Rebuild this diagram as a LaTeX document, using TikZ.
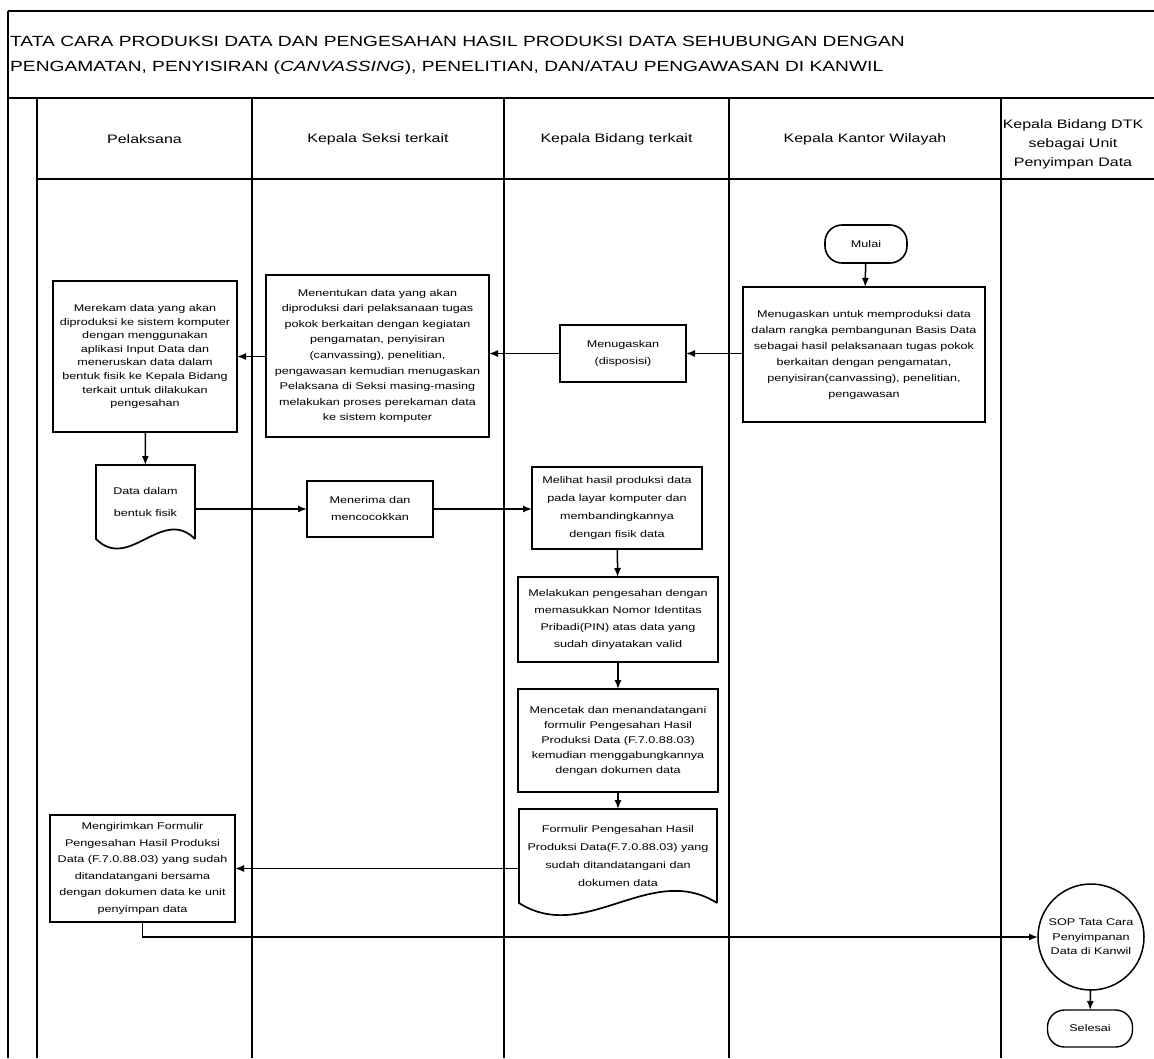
\documentclass[tikz,border=0pt]{standalone}
\usepackage{fontspec}
\newfontfamily\flowfont[FakeStretch=1.3]{Liberation Sans}
\usepackage{tikz}
\usetikzlibrary{calc,shapes.geometric,arrows.meta}

\tikzset{
	frameline/.style={line width=2.6pt},
	laneline/.style={line width=1.4pt},
	flow/.style={-{Latex[length=9pt,width=7pt]},line width=1.5pt},
	task/.style={draw,line width=1.9pt,align=center,inner sep=1pt,outer sep=0pt,font={\flowfont\fontsize{9.7}{#1}\selectfont}},
	task/.default=15,
	docnode/.style={align=center,inner sep=1pt,outer sep=0pt,font={\flowfont\fontsize{9.7}{#1}\selectfont}},
	terminal/.style={draw,line width=1.6pt,rounded corners=17pt,outer sep=0pt,font={\flowfont\fontsize{9.7}{14}\selectfont}},
	lanehead/.style={align=center,font={\flowfont\fontsize{12.3}{19}\selectfont}}
}

\begin{document}
\begin{tikzpicture}[x=1pt,y=-1pt]
		\useasboundingbox (0,0) rectangle (1154,1058);
		\def \top {11}
		\def \head {98}
		\def \body {179}
		\def \bottom {1058}
		
		%frame and lanes
		\draw[frameline] (8,\top) -- (1154,\top);
		\draw[frameline] (8,\head) -- (1154,\head);
		\draw[frameline] (37,\body) -- (1154,\body);
		\draw[laneline] (8,\top) -- (8,\bottom);
		\foreach \x in {37,252,504,729,1001}
			\draw[laneline] (\x,\head) -- (\x,\bottom);
		
		%title
		\node[anchor=west,align=left,inner sep=0pt,font={\flowfont\fontsize{14.75}{25}\selectfont}] (title) at (10,55.5)
			{TATA CARA PRODUKSI DATA DAN PENGESAHAN HASIL PRODUKSI DATA SEHUBUNGAN DENGAN\\
			PENGAMATAN, PENYISIRAN (\textit{CANVASSING}), PENELITIAN, DAN/ATAU PENGAWASAN DI KANWIL};
		
		%lane heads
		\node[lanehead] (hpel) at (144.5,139) {Pelaksana};
		\node[lanehead] (hseksi) at (378,139) {Kepala Seksi terkait};
		\node[lanehead] (hbidang) at (616.5,139) {Kepala Bidang terkait};
		\node[lanehead] (hkanwil) at (865,139) {Kepala Kantor Wilayah};
		\node[lanehead] (hdtk) at (1073,144) {Kepala Bidang DTK\\sebagai Unit\\Penyimpan Data};
		
		%kanwil
		\node[terminal,minimum width=82pt,minimum height=38pt] (mulai) at (866,244) {Mulai};
		\node[task=16,minimum width=242pt,minimum height=135pt] (kanwil) at (864,354.5)
			{Menugaskan untuk memproduksi data\\dalam rangka pembangunan Basis Data\\sebagai hasil pelaksanaan tugas pokok\\berkaitan dengan pengamatan,\\penyisiran(canvassing), penelitian,\\pengawasan};
		
		%kepala bidang
		\node[task=17,minimum width=126pt,minimum height=57pt] (disposisi) at (623,353.5) {Menugaskan\\(disposisi)};
		\node[task=18,minimum width=170pt,minimum height=82pt] (melihat) at (617,508)
			{Melihat hasil produksi data\\pada layar komputer dan\\membandingkannya\\dengan fisik data};
		\node[task=17,minimum width=200pt,minimum height=85pt] (pengesahan) at (618,619.5)
			{Melakukan pengesahan dengan\\memasukkan Nomor Identitas\\Pribadi(PIN) atas data yang\\sudah dinyatakan valid};
		\node[task=15,minimum width=200pt,minimum height=103pt] (mencetak) at (618,740.5)
			{Mencetak dan menandatangani\\formulir Pengesahan Hasil\\Produksi Data (F.7.0.88.03)\\kemudian menggabungkannya\\dengan dokumen data};
		\node[docnode=18,minimum width=198pt,minimum height=94pt] (formulir) at (618,856)
			{Formulir Pengesahan Hasil\\Produksi Data(F.7.0.88.03) yang\\sudah ditandatangani dan\\dokumen data};
		
		%kepala seksi
		\node[task=15.6,minimum width=223pt,minimum height=162pt] (seksi) at (377.5,356)
			{Menentukan data yang akan\\diproduksi dari pelaksanaan tugas\\pokok berkaitan dengan kegiatan\\pengamatan, penyisiran\\(canvassing), penelitian,\\pengawasan kemudian menugaskan\\Pelaksana di Seksi masing-masing\\melakukan proses perekaman data\\ke sistem komputer};
		\node[task=17,minimum width=126pt,minimum height=56pt] (menerima) at (370,509) {Menerima dan\\mencocokkan};
		
		%pelaksana
		\node[task=13.6,minimum width=184pt,minimum height=151pt] (pelaksana) at (145,356.5)
			{Merekam data yang akan\\diproduksi ke sistem komputer\\dengan menggunakan\\aplikasi Input Data dan\\meneruskan data dalam\\bentuk fisik ke Kepala Bidang\\terkait untuk dilakukan\\pengesahan};
		\node[docnode=22,minimum width=99pt,minimum height=74pt] (datafisik) at (145.5,502) {Data dalam\\bentuk fisik};
		\node[task=16.5,minimum width=185pt,minimum height=107pt] (mengirim) at (142.5,868.5)
			{Mengirimkan Formulir\\Pengesahan Hasil Produksi\\Data (F.7.0.88.03) yang sudah\\ditandatangani bersama\\dengan dokumen data ke unit\\penyimpan data};
		
		%unit penyimpan data
		\node[circle,draw,line width=1.5pt,minimum size=106pt,inner sep=0pt,outer sep=0pt,align=center,font={\flowfont\fontsize{9.7}{14.5}\selectfont}] (sop) at (1091,937)
			{SOP Tata Cara\\Penyimpanan\\Data di Kanwil};
		\node[terminal,minimum width=85pt,minimum height=37pt,line width=1.4pt] (selesai) at (1090,1028.5) {Selesai};
		
		%document outlines
		\draw[line width=1.7pt] (datafisik.south east) -- (datafisik.north east) -- (datafisik.north west) -- (datafisik.south west)
			.. controls ($(datafisik.south west)!0.333!(datafisik.south east)+(0,33)$) and ($(datafisik.south west)!0.667!(datafisik.south east)+(0,-33)$) .. (datafisik.south east);
		\draw[line width=1.7pt] (formulir.south east) -- (formulir.north east) -- (formulir.north west) -- (formulir.south west)
			.. controls ($(formulir.south west)!0.333!(formulir.south east)+(0,42)$) and ($(formulir.south west)!0.667!(formulir.south east)+(0,-42)$) .. (formulir.south east);
		
		%connectors
		\draw[flow] (mulai) -- (kanwil);
		\draw[flow] (kanwil.west |- disposisi.east) -- (disposisi.east);
		\draw[flow] (disposisi.west) -- (disposisi.west -| seksi.east);
		\draw[flow] (seksi.west |- pelaksana.east) -- (pelaksana.east);
		\draw[flow] (pelaksana) -- (datafisik);
		\draw[flow] (datafisik.east |- menerima.west) -- (menerima.west);
		\draw[flow] (menerima.east) -- (menerima.east -| melihat.west);
		\draw[flow] (melihat) -- (pengesahan);
		\draw[flow] (pengesahan) -- (mencetak);
		\draw[flow] (mencetak) -- (formulir);
		\draw[flow] (formulir.west |- mengirim.east) -- (mengirim.east);
		\draw[flow] (mengirim.south) |- (sop.west);
		\draw[flow] (sop) -- (selesai);
\end{tikzpicture}
\end{document}
